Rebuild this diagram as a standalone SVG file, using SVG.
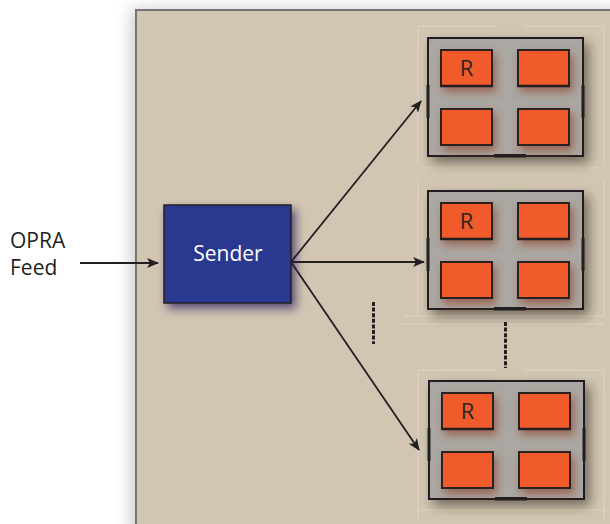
<svg xmlns="http://www.w3.org/2000/svg" width="610" height="524" viewBox="0 0 610 524">
  <defs>
    <filter id="panelShadow" x="-20%" y="-5%" width="140%" height="110%">
      <feGaussianBlur in="SourceAlpha" stdDeviation="8"/>
      <feOffset dx="-4" dy="0" result="b"/>
      <feFlood flood-color="#000" flood-opacity="0.2"/>
      <feComposite in2="b" operator="in"/>
      <feMerge><feMergeNode/><feMergeNode in="SourceGraphic"/></feMerge>
    </filter>
    <filter id="senderShadow" x="-30%" y="-30%" width="160%" height="160%">
      <feGaussianBlur in="SourceAlpha" stdDeviation="5"/>
      <feOffset dx="4" dy="5" result="b"/>
      <feFlood flood-color="#2a1a5a" flood-opacity="0.7"/>
      <feComposite in2="b" operator="in"/>
      <feMerge><feMergeNode/><feMergeNode in="SourceGraphic"/></feMerge>
    </filter>
    <filter id="boxShadow" x="-20%" y="-20%" width="140%" height="140%">
      <feGaussianBlur in="SourceAlpha" stdDeviation="6"/>
      <feOffset dx="5" dy="6" result="b"/>
      <feFlood flood-color="#2a2418" flood-opacity="0.55"/>
      <feComposite in2="b" operator="in"/>
      <feMerge><feMergeNode/><feMergeNode in="SourceGraphic"/></feMerge>
    </filter>
    <filter id="cellShadow" x="-30%" y="-30%" width="160%" height="170%">
      <feGaussianBlur in="SourceAlpha" stdDeviation="4"/>
      <feOffset dx="3" dy="5" result="b"/>
      <feFlood flood-color="#8a3a20" flood-opacity="0.6"/>
      <feComposite in2="b" operator="in"/>
      <feMerge><feMergeNode/><feMergeNode in="SourceGraphic"/></feMerge>
    </filter>
    <marker id="arrow" viewBox="0 0 12 10" refX="11" refY="5" markerWidth="12" markerHeight="10" markerUnits="userSpaceOnUse" orient="auto">
      <path d="M0,0 L12,5 L0,10 L3,5 Z" fill="#231f20"/>
    </marker>
    <g id="server">
      <rect class="chassis" x="0" y="0" width="155" height="118" filter="url(#boxShadow)"/>
      <g filter="url(#cellShadow)">
        <rect class="cell" x="13" y="12" width="51" height="36"/>
        <rect class="cell" x="90" y="12" width="51" height="36"/>
        <rect class="cell" x="13" y="71" width="51" height="36"/>
        <rect class="cell" x="90" y="71" width="51" height="36"/>
      </g>
      <line class="ledge" x1="12" y1="48" x2="65" y2="48"/>
      <line class="ledge" x1="89" y1="48" x2="142" y2="48"/>
      <rect class="bar" x="-1.5" y="47" width="3" height="33"/>
      <rect class="bar" x="153.5" y="47" width="3" height="33"/>
      <rect class="bar" x="66" y="116" width="32" height="3.5"/>
      <rect class="bar" x="66" y="-1" width="32" height="2"/>
      <text class="r" x="38.5" y="38">R</text>
    </g>
  </defs>
  <style>
    .panel { fill: #d2c6b3; stroke: #77746f; stroke-width: 2; }
    .faint { fill: none; stroke: #e6ddcf; stroke-width: 1; opacity: 0.6; }
    .chassis { fill: #aba7a2; stroke: #231f20; stroke-width: 2; }
    .cell { fill: #f15a29; stroke: #2b2421; stroke-width: 2; }
    .ledge { stroke: #231f20; stroke-width: 2.5; }
    .bar { fill: #231f20; }
    .r { font-family: "Open Sans", "Liberation Sans", sans-serif; font-size: 22px; fill: #2b2421; text-anchor: middle; }
    .label { font-family: "Open Sans", "Liberation Sans", sans-serif; font-size: 21px; fill: #231f20; }
    .conn { stroke: #231f20; stroke-width: 1.8; fill: none; marker-end: url(#arrow); }
    .dots { stroke: #231f20; stroke-width: 3; stroke-dasharray: 4 1.6; fill: none; }
  </style>

  <rect x="0" y="0" width="610" height="524" fill="#ffffff"/>

  <!-- backdrop panel -->
  <rect class="panel" x="136" y="10" width="490" height="530" filter="url(#panelShadow)"/>

  <!-- faint guide frames around server groups -->
  <g id="guides">
    <path class="faint" d="M418,166 V26 H496 M524,26 H604 V166 M418,168 H604"/>
    <path class="faint" d="M418,180 V318 M404,316 H604 V180"/>
    <path class="faint" d="M402,324 H604 M418,370 H496 M524,370 H604 M418,370 V520 M604,370 V520 M418,510 H604"/>
  </g>

  <!-- input label -->
  <g id="opra-feed">
    <text class="label" x="10" y="248">OPRA</text>
    <text class="label" x="10" y="275">Feed</text>
  </g>

  <!-- connectors -->
  <g id="connectors">
    <line class="conn" x1="80" y1="263" x2="158" y2="263"/>
    <line class="conn" x1="291" y1="262" x2="421" y2="101"/>
    <line class="conn" x1="291" y1="262" x2="424" y2="262"/>
    <line class="conn" x1="291" y1="262" x2="419" y2="450"/>
    <line class="dots" x1="373.5" y1="302" x2="373.5" y2="344"/>
    <line class="dots" x1="505.5" y1="322" x2="505.5" y2="368"/>
  </g>

  <!-- sender -->
  <g id="sender">
    <rect x="164" y="205" width="127" height="98" fill="#2b3990" stroke="#231f20" stroke-width="1.5" filter="url(#senderShadow)"/>
    <text x="228" y="261" font-family="'Open Sans', 'Liberation Sans', sans-serif" font-size="21" fill="#ffffff" text-anchor="middle">Sender</text>
  </g>

  <!-- receivers -->
  <g id="receiver-1"><use href="#server" x="428" y="38"/></g>
  <g id="receiver-2"><use href="#server" x="428" y="191"/></g>
  <g id="receiver-3"><use href="#server" x="429" y="381"/></g>
</svg>
